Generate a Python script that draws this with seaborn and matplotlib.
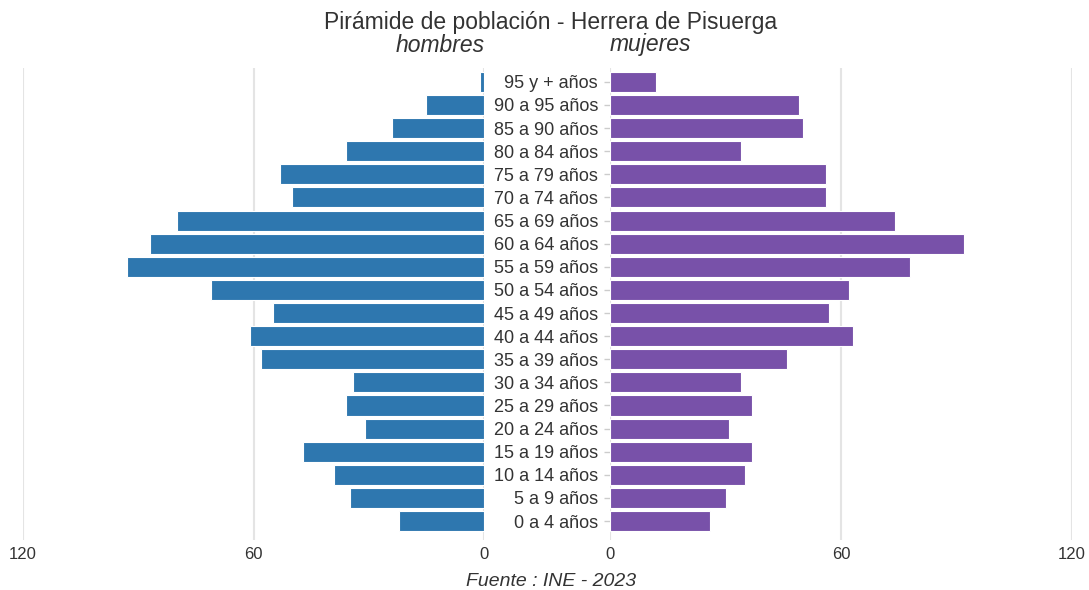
import matplotlib
matplotlib.use("Agg")
import matplotlib.pyplot as plt
import pandas as pd
import seaborn as sns

# ============================
# 数据
# ============================
edades = [
    "95 y + años", "90 a 95 años", "85 a 90 años", "80 a 84 años",
    "75 a 79 años", "70 a 74 años", "65 a 69 años", "60 a 64 años",
    "55 a 59 años", "50 a 54 años", "45 a 49 años", "40 a 44 años",
    "35 a 39 años", "30 a 34 años", "25 a 29 años", "20 a 24 años",
    "15 a 19 años", "10 a 14 años", "5 a 9 años", "0 a 4 años",
]
hombres = [1, 15, 24, 36, 53, 50, 80, 87, 93, 71,
           55, 61, 58, 34, 36, 31, 47, 39, 35, 22]
mujeres = [12, 49, 50, 34, 56, 56, 74, 92, 78, 62,
           57, 63, 46, 34, 37, 31, 37, 35, 30, 26]
xticks = [0, 60, 120]

titulo = "Pirámide de población - Herrera de Pisuerga"
fuente = "Fuente : INE - 2023"

COLOR_H = "#2E77AF"
COLOR_M = "#7851A9"
GRID = "#e4e4e4"
TEXT = "#333333"

sns.set_theme(style="white")
plt.rcParams["font.family"] = ["Liberation Sans", "DejaVu Sans"]

df = pd.DataFrame({"edad": edades, "hombres": hombres, "mujeres": mujeres})

fig = plt.figure(figsize=(10.89, 5.90), dpi=100)
ax_h = fig.add_axes([23 / 1089, 50 / 590, 461 / 1089, 472 / 590])
ax_m = fig.add_axes([610 / 1089, 50 / 590, 462 / 1089, 472 / 590])

for ax, col, color in [(ax_h, "hombres", COLOR_H), (ax_m, "mujeres", COLOR_M)]:
    sns.barplot(data=df, x=col, y="edad", order=edades, color=color,
                saturation=1, width=0.87, edgecolor="white", linewidth=0.8,
                orient="h", ax=ax, zorder=3)
    ax.set_xticks(xticks)
    ax.set_xticklabels([str(v) for v in xticks])
    ax.grid(axis="x", color=GRID, linewidth=1.5, zorder=0)
    ax.set_axisbelow(True)
    ax.set_ylim(len(edades) - 1 + 0.82, -0.6)
    ax.set_xlabel("")
    ax.set_ylabel("")
    sns.despine(ax=ax, left=True, bottom=True)
    ax.tick_params(axis="x", length=0, pad=5, labelsize=12, labelcolor=TEXT)

ax_h.set_xlim(120, 0)
ax_m.set_xlim(0, 120)

ax_h.tick_params(axis="y", left=False, labelleft=False)
ax_m.tick_params(axis="y", left=True, length=4.3, width=1, color="#cccccc",
                 pad=4.3, labelsize=13, labelcolor=TEXT)

fig.text(551 / 1089, 1 - 22 / 590, titulo, ha="center", va="center",
         fontsize=16.5, color=TEXT)
fig.text(485 / 1089, 1 - 45 / 590, "hombres", ha="right", va="center",
         fontsize=16.5, style="italic", color=TEXT)
fig.text(610 / 1089, 1 - 45 / 590, "mujeres", ha="left", va="center",
         fontsize=16.5, style="italic", color=TEXT)
fig.text(551 / 1089, 1 - 581 / 590, fuente, ha="center", va="center",
         fontsize=14, style="italic", color=TEXT)

fig.savefig("out.png", dpi=100)
